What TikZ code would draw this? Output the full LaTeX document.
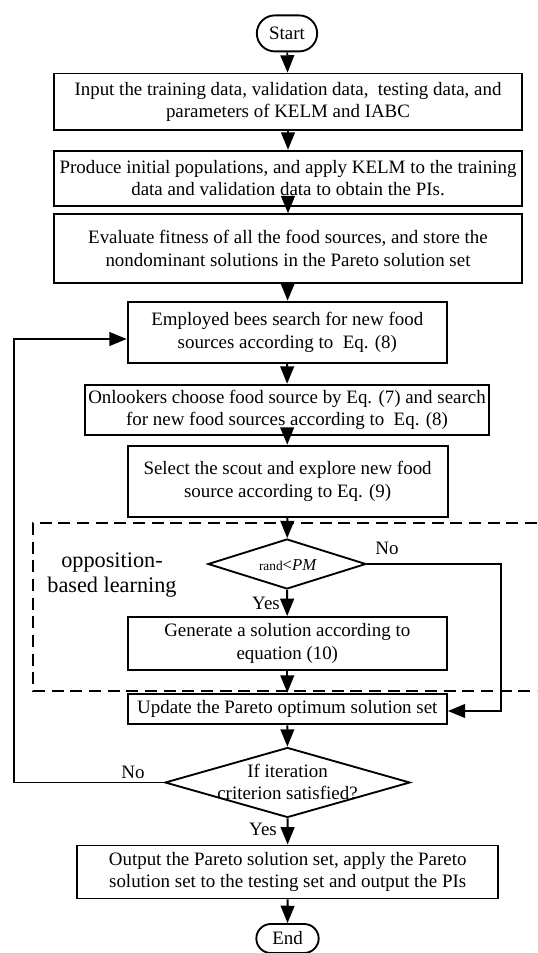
\documentclass[tikz,border=0pt]{standalone}
\usepackage{fontspec}
\setmainfont{Liberation Serif}
\usetikzlibrary{shapes.geometric,shapes.misc,arrows.meta}
\begin{document}
\begin{tikzpicture}[x=0.75pt,y=-0.75pt,
  font=\fontsize{14.2}{16.8}\selectfont,
  lw/.style={line width=1.4pt},
  box/.style={draw,lw,rectangle,align=center,inner sep=0.5pt},
  term/.style={draw,lw,rounded rectangle,inner sep=1pt},
  dia/.style={draw,lw,diamond,inner sep=0pt},
  arr/.style={lw,-{Triangle[length=13pt,width=10.3pt]}},
  lab/.style={inner sep=0pt}]
\useasboundingbox (0,0) rectangle (537,953);
\node[term,minimum width=47.25pt,minimum height=27pt] (start) at (287,33.4) {Start};
\node[box,minimum width=351pt,minimum height=42.4pt] (b1) at (288,101.8)
  {Input the training data, validation data,\ \ testing data, and\\parameters of KELM and IABC};
\node[box,minimum width=351pt,minimum height=41.25pt] (b2) at (288,178.2)
  {Produce initial populations, and apply KELM to the training\\data and validation data to obtain the PIs.};
\node[box,minimum width=351pt,minimum height=51.4pt] (b3) at (288,248.5)
  {Evaluate fitness of all the food sources, and store the\\nondominant solutions in the Pareto solution set};
\node[box,minimum width=239.5pt,minimum height=46.2pt] (b4) at (287.3,332.4)
  {Employed bees search for new food\\sources according to\ \ Eq. (8)};
\node[box,minimum width=303pt,minimum height=38pt] (b5) at (287,410)
  {Onlookers choose food source by Eq. (7) and search\\for new food sources according to\ \ Eq. (8)};
\node[box,minimum width=240pt,minimum height=53.4pt] (b6) at (287.6,481.2)
  {Select the scout and explore new food\\source according to Eq. (9)};
\node[dia,minimum width=118.5pt,minimum height=37.5pt] (d1) at (287,564) {};
\node[lab] (d1t) at (288,565)
  {{\fontsize{10}{11}\selectfont rand}{\fontsize{12.5}{13}\selectfont<\textit{PM}}};
\node[box,minimum width=239.5pt,minimum height=39.5pt] (b7) at (287.3,643.3)
  {Generate a solution according to\\equation (10)};
\node[box,minimum width=239.5pt,minimum height=23.1pt] (b8) at (287.3,709)
  {Update the Pareto optimum solution set};
\node[dia,minimum width=183.75pt,minimum height=52.5pt] (d2) at (287.5,782.5) {};
\node[lab,align=center] (d2t) at (287.5,782) {If iteration\\criterion satisfied?};
\node[box,minimum width=316pt,minimum height=39.8pt] (b9) at (287.7,872)
  {Output the Pareto solution set, apply the Pareto\\solution set to the testing set and output the PIs};
\node[term,minimum width=48.75pt,minimum height=21.75pt] (end) at (287.5,938.5) {End};
\node[lab,align=center,font=\fontsize{16.7}{18.8}\selectfont] (obl) at (112,575)
  {opposition-\\based learning};
\node[lab] (no1) at (387,548) {No};
\node[lab] (yes1) at (266,603) {Yes};
\node[lab] (no2) at (133,772) {No};
\node[lab] (yes2) at (263,829) {Yes};
\coordinate (dr) at (537,523);
\coordinate (dl) at (33,523);
\coordinate (dbl) at (33,691);
\coordinate (dbr) at (537,691);
\draw[lw,dashed,dash pattern=on 9pt off 5pt] (dr) -- (dl) -- (dbl) -- (dbr);
\draw[arr] (start) -- (b1);
\draw[arr] (b1) -- (b2);
\draw[arr] (b2) -- (b3);
\draw[arr] (b3) -- (b4);
\draw[arr] (b4) -- (b5);
\draw[arr] (b5) -- (b6);
\draw[arr] (b6) -- (d1);
\draw[arr] (d1) -- (b7);
\draw[arr] (b7) -- (b8);
\draw[arr] (b8) -- (d2);
\draw[arr] (d2) -- (b9);
\draw[arr] (b9) -- (end);
\coordinate (r1) at (501,564);
\coordinate (r2) at (501,711);
\draw[arr] (d1.east) -- (r1) -- (r2) -- (b8.east |- r2);
\coordinate (l1) at (14.4,782.5);
\coordinate (l2) at (14.4,339);
\draw[arr] (d2.west) -- (l1) -- (l2) -- (b4.west |- l2);
\end{tikzpicture}
\end{document}
